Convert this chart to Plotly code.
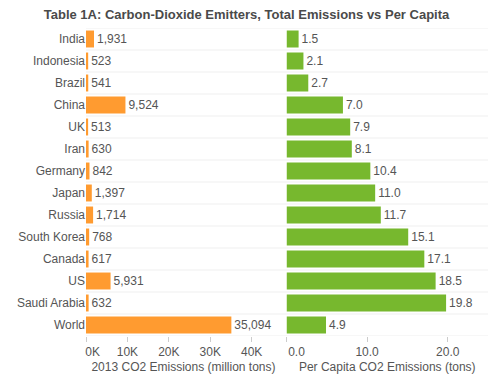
import plotly.graph_objects as go
from plotly.subplots import make_subplots

countries = ["India", "Indonesia", "Brazil", "China", "UK", "Iran", "Germany", "Japan",
             "Russia", "South Korea", "Canada", "US", "Saudi Arabia", "World"]
total_emissions = [1931, 523, 541, 9524, 513, 630, 842, 1397, 1714, 768, 617, 5931, 632, 35094]
per_capita = [1.5, 2.1, 2.7, 7.0, 7.9, 8.1, 10.4, 11.0, 11.7, 15.1, 17.1, 18.5, 19.8, 4.9]
left_ticks = [0, 10000, 20000, 30000, 40000]
left_tick_labels = ["0K", "10K", "20K", "30K", "40K"]
right_ticks = [0, 10, 20]
right_tick_labels = ["0.0", "10.0", "20.0"]

FONT = "Liberation Sans"
TXT = "#555555"
NB = "\u00a0"


def pad_first(labels, n):
    # first label sits to the right of its tick (as in the reference)
    return [NB * n + labels[0]] + labels[1:]


fig = make_subplots(rows=1, cols=2, shared_yaxes=True, horizontal_spacing=0.01)

fig.add_trace(go.Bar(
    y=countries, x=total_emissions, orientation="h",
    marker=dict(color="#FF9B30", line=dict(width=0)), width=0.77,
    text=[f"{v:,}" for v in total_emissions], textposition="outside",
    textfont=dict(family=FONT, size=12, color=TXT), cliponaxis=False,
    hoverinfo="skip"), row=1, col=1)

fig.add_trace(go.Bar(
    y=countries, x=per_capita, orientation="h",
    marker=dict(color="#77B82E", line=dict(width=0)), width=0.77,
    text=[f"{v:.1f}" for v in per_capita], textposition="outside",
    textfont=dict(family=FONT, size=12, color=TXT), cliponaxis=False,
    hoverinfo="skip"), row=1, col=2)

# row separators
for i in range(len(countries) + 1):
    fig.add_shape(type="line", xref="paper", yref="y", x0=0, x1=1,
                  y0=i - 0.5, y1=i - 0.5, line=dict(color="#EFEFEF", width=1), layer="below")

fig.update_layout(
    width=497, height=381,
    margin=dict(l=86, r=9, t=28, b=45),
    paper_bgcolor="white", plot_bgcolor="white",
    showlegend=False, bargap=0.23,
    font=dict(family=FONT, size=12, color=TXT),
    title=dict(text="<b>Table 1A: Carbon-Dioxide Emitters, Total Emissions vs Per Capita</b>",
               x=0.496, xanchor="center", y=0.963, yanchor="middle",
               font=dict(family=FONT, size=13, color="#4A4A4A")),
    xaxis=dict(domain=[0, 0.485], range=[0, 47070], tickvals=left_ticks,
               ticktext=pad_first(left_tick_labels, 4),
               showgrid=False, zeroline=False, showline=False, automargin=False,
               ticks="outside", ticklen=5, tickcolor="#CCCCCC",
               tickfont=dict(family=FONT, size=12, color=TXT),
               title=dict(text="2013 CO2 Emissions (million tons)", standoff=4,
                          font=dict(family=FONT, size=12, color=TXT))),
    xaxis2=dict(domain=[0.4988, 1], range=[0, 25], tickvals=right_ticks,
                ticktext=pad_first(right_tick_labels, 6),
                showgrid=False, zeroline=False, showline=False, automargin=False,
                ticks="outside", ticklen=5, tickcolor="#CCCCCC",
                tickfont=dict(family=FONT, size=12, color=TXT),
                title=dict(text="Per Capita CO2 Emissions (tons)", standoff=4,
                           font=dict(family=FONT, size=12, color=TXT))),
    yaxis=dict(categoryorder="array", categoryarray=countries, automargin=False,
               range=[len(countries) - 0.5, -0.5], showgrid=False, zeroline=False,
               ticks="", tickfont=dict(family=FONT, size=12, color=TXT)),
    yaxis2=dict(showgrid=False, zeroline=False, showticklabels=False, automargin=False),
)

fig.write_html("out.html", config={"displayModeBar": False},
               post_script="document.body.style.margin='0';document.body.style.overflow='hidden';")
